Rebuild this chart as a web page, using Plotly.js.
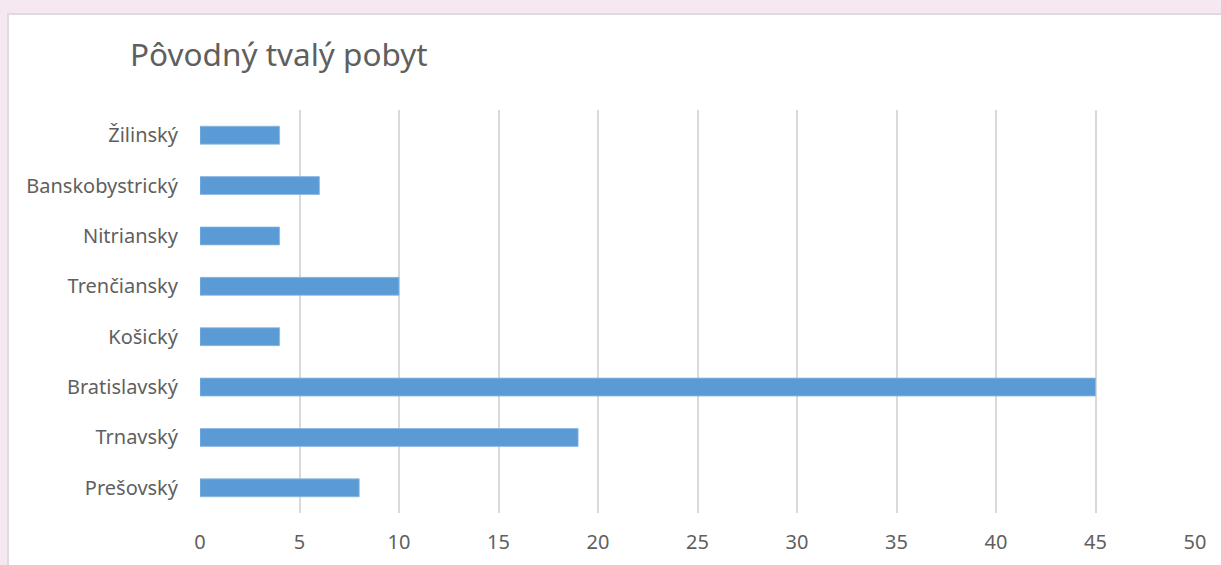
<!DOCTYPE html>
<html>
<head>
<meta charset="utf-8">
<script src="https://cdn.plot.ly/plotly-3.0.1.min.js"></script>
<style>
  html, body { margin: 0; padding: 0; background: #f5e8f1; width: 1221px; height: 565px; overflow: hidden; }
  #frame { position: absolute; left: 7px; top: 13px; width: 1216px; height: 556px; background: #ffffff;
           border-left: 2px solid #dcdcdc; border-top: 2px solid #dcdcdc; }
  #chart { position: absolute; left: 0; top: 0; width: 1212px; height: 550px; }
</style>
</head>
<body>
<div id="frame"><div id="chart"></div></div>
<script>
// Data (bottom-to-top order as drawn by Plotly)
const regions = ["Prešovský", "Trnavský", "Bratislavský", "Košický", "Trenčiansky", "Nitriansky", "Banskobystrický", "Žilinský"];
const counts = [8, 19, 45, 4, 10, 4, 6, 4];
const xTicks = [0, 5, 10, 15, 20, 25, 30, 35, 40, 45, 50];
const chartTitle = "Pôvodný tvalý pobyt";

const W = 1212, H = 550;
const font = "'Noto Sans', 'Open Sans', sans-serif";

Plotly.newPlot("chart", [{
  type: "bar",
  orientation: "h",
  y: regions,
  x: counts,
  width: 0.355,
  marker: { color: "#5b9bd5", line: { color: "#8ab8e3", width: 0.8 } },
  hoverinfo: "x+y"
}], {
  width: W, height: H,
  margin: { l: 191, r: 26, t: 95, b: 52 },
  paper_bgcolor: "#ffffff",
  plot_bgcolor: "#ffffff",
  showlegend: false,
  title: {
    text: chartTitle,
    font: { family: font, size: 31.5, color: "#5f5f5f" },
    xref: "container", x: 121 / W, xanchor: "left",
    yref: "container", y: 1 - 40 / H, yanchor: "middle"
  },
  xaxis: {
    range: [0, 50],
    tickvals: xTicks,
    ticktext: xTicks.map(String),
    showgrid: true, gridcolor: "#d9d9d9", gridwidth: 2,
    zeroline: false, showline: false, ticks: "",
    ticklabelstandoff: 15,
    tickfont: { family: font, size: 20, color: "#5f5f5f" },
    fixedrange: true
  },
  yaxis: {
    type: "category",
    categoryorder: "array", categoryarray: regions,
    range: [-0.5, regions.length - 0.5],
    showgrid: false, zeroline: false, showline: false, ticks: "",
    ticklabelstandoff: 21,
    tickfont: { family: font, size: 20, color: "#5f5f5f" },
    fixedrange: true
  },
  bargap: 0.645
}, { displayModeBar: false, staticPlot: true });
</script>
</body>
</html>
